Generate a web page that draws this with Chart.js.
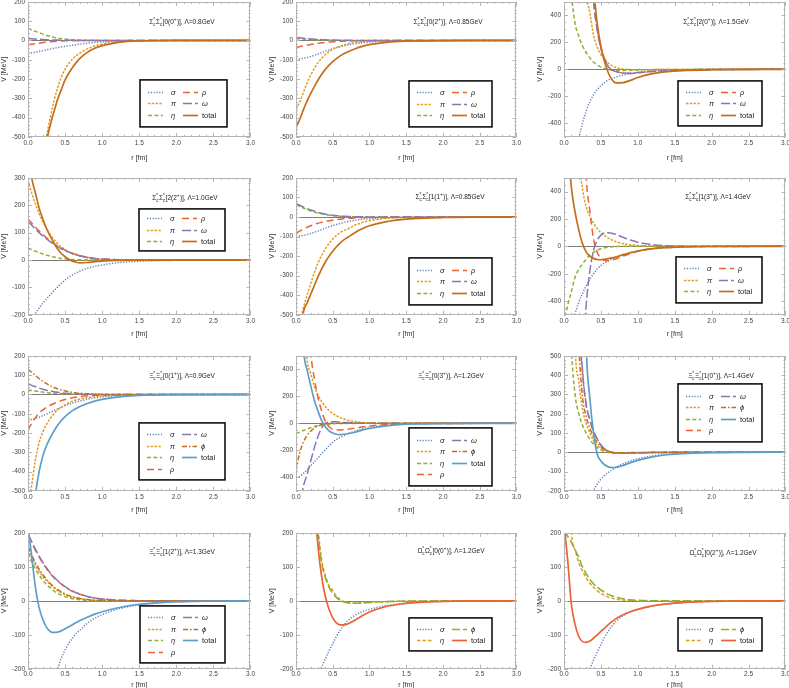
<!DOCTYPE html>
<html><head><meta charset="utf-8">
<script src="https://cdn.jsdelivr.net/npm/chart.js@4.4.0/dist/chart.umd.min.js"></script>
<style>
html,body{margin:0;padding:0;background:#fff;}
body{width:789px;height:688px;position:relative;overflow:hidden;}
canvas{position:absolute;}
</style></head><body>
<script>
// ---------------- data ----------------
const R = [0,0.05,0.1,0.15,0.2,0.25,0.3,0.35,0.4,0.45,0.5,0.55,0.6,0.65,0.7,0.8,0.9,1.0,1.2,1.4,1.6,2.0,2.5,3.0];
const X_TICKS = [0,0.5,1,1.5,2,2.5,3];
const YT_200_500 = [200,100,0,-100,-200,-300,-400,-500];
const YT_500_500 = [400,200,0,-200,-400];
const YT_300_200 = [300,200,100,0,-100,-200];
const YT_500_200 = [500,400,300,200,100,0,-100,-200];
const YT_200_200 = [200,100,0,-100,-200];

// P1  Σc*Σc*[0(0+)] Λ=0.8
const P1_SIGMA = [-66,-64,-61,-57,-53,-49,-45,-41,-37,-34,-31,-28,-25,-22,-19,-14,-10,-7.5,-4,-2,-1,-0.3,0,0];
const P1_PI    = [-1200,-1100,-950,-800,-640,-500,-400,-315,-245,-190,-150,-120,-97,-80,-65,-44,-29,-19,-8,-3,-1,0,0,0];
const P1_ETA   = [62,55,47,40,33,26,21,16,12,9,7,5.5,4,3,2,1,0.5,0.2,0,0,0,0,0,0];
const P1_RHO   = [-23,-20,-17,-14,-11,-9,-7,-5.5,-4,-3,-2,-1.5,-1,-0.7,-0.5,-0.2,0,0,0,0,0,0,0,0];
const P1_OMEGA = [10,8.5,7,6,5,4,3,2.5,2,1.5,1,0.8,0.5,0.3,0.2,0,0,0,0,0,0,0,0,0];
const P1_TOTAL = [-1500,-1380,-1200,-1000,-700,-530,-440,-370,-305,-255,-205,-170,-140,-115,-93,-62,-41,-27,-11,-4,-1.5,0,0,0];
// P2  [0(2+)] Λ=0.85
const P2_SIGMA = [-97,-96,-93,-88,-83,-77,-70,-63,-56,-49,-43,-38,-33,-28,-24,-17,-12,-9,-4.5,-2.2,-1,-0.3,0,0];
const P2_PI    = [-355,-320,-270,-220,-180,-145,-115,-92,-73,-58,-46,-37,-29,-23,-18,-11,-7,-4.5,-2,-0.8,-0.3,0,0,0];
const P2_ETA   = [10,8.5,7,5.5,4.5,3.5,3,2.3,1.8,1.3,1,0.7,0.5,0.3,0.2,0.1,0,0,0,0,0,0,0,0];
const P2_RHO   = [-36,-32,-28,-24,-21,-18,-15,-12.5,-10,-8.5,-7,-5.5,-4.5,-3.7,-3,-2,-1.3,-0.8,-0.3,0,0,0,0,0];
const P2_OMEGA = [16,14,12,10,8,6.5,5,4,3,2.5,2,1.5,1,0.8,0.6,0.3,0.1,0,0,0,0,0,0,0];
const P2_TOTAL = [-453,-410,-360,-315,-275,-240,-205,-175,-150,-128,-110,-94,-80,-69,-60,-44,-31,-22,-11,-5,-2.5,-0.5,0,0];
// P3  [2(0+)] Λ=1.5
const P3_SIGMA = [-1100,-1000,-850,-680,-520,-400,-310,-240,-190,-150,-120,-98,-80,-68,-58,-42,-31,-23,-12,-6,-3,-0.8,-0.1,0];
const P3_PI    = [5000,4000,3000,2000,1300,900,560,420,255,165,110,75,45,28,15,3,-2,-3,-2,-1,-0.5,0,0,0];
const P3_ETA   = [1400,1000,560,340,245,175,125,85,55,33,17,6,-2,-6,-8,-8,-6,-4,-2,-1,-0.5,0,0,0];
const P3_RHO   = [8000,7000,5500,4000,2800,2000,1500,900,520,300,160,80,20,-5,-15,-28,-30,-26,-16,-9,-5,-1.5,-0.3,0];
const P3_OMEGA = [7800,6800,5300,3900,2700,1950,1450,870,500,290,155,75,18,-6,-16,-27,-28,-24,-15,-8.5,-4.5,-1.4,-0.3,0];
const P3_TOTAL = [20000,17000,13000,9000,6000,4000,2500,1100,620,340,170,55,-25,-78,-100,-98,-82,-60,-32,-17,-9,-3,-0.5,0];
// P4  [2(2+)] Λ=1.0
const P4_SIGMA = [-225,-215,-195,-175,-158,-142,-127,-112,-98,-85,-73,-63,-55,-47,-40,-30,-23,-18,-10,-6,-3.5,-1,-0.2,0];
const P4_PI    = [290,245,205,170,140,115,93,75,60,48,38,30,23,18,14,8,4.5,2.5,0.8,0.3,0,0,0,0];
const P4_ETA   = [44,38,32,27,22,18,14,11,8,6,4.5,3,2,1.2,0.8,0.3,0.1,0,0,0,0,0,0,0];
const P4_RHO   = [150,135,120,106,93,81,70,60,51,43,36,30,25,20,16,10,6,4,1.5,0.5,0.2,0,0,0];
const P4_OMEGA = [140,127,113,100,88,77,67,57,49,41,35,29,24,19.5,16,10,6,4,1.5,0.5,0.2,0,0,0];
const P4_TOTAL = [400,300,245,190,150,115,87,62,40,24,12,3,-4,-8,-10,-9,-6,-4,-1.5,-0.5,-0.2,0,0,0];
// P5  [1(1+)] Λ=0.85
const P5_SIGMA = [-98,-97,-94,-89,-84,-78,-71,-64,-57,-50,-44,-38,-33,-28,-24,-17,-12,-9,-4.5,-2.2,-1,-0.3,0,0];
const P5_PI    = [-800,-560,-465,-400,-340,-285,-235,-195,-162,-135,-113,-95,-80,-70,-62,-42,-28,-19,-8,-3.5,-1.5,-0.3,0,0];
const P5_ETA   = [62,54,46,38,31,25,20,16,12,9,7,5,3.5,2.5,1.8,0.8,0.3,0.1,0,0,0,0,0,0];
const P5_RHO   = [-82,-72,-62,-53,-45,-38,-32,-27,-22,-19,-16,-13,-11,-9,-7,-4.5,-3,-2,-0.8,-0.3,-0.1,0,0,0];
const P5_OMEGA = [68,60,51,43,36,30,24,19,15,12,9,7,5,4,3,1.5,0.8,0.4,0.1,0,0,0,0,0];
const P5_TOTAL = [-900,-680,-490,-440,-395,-350,-305,-265,-230,-200,-175,-152,-133,-117,-105,-80,-60,-45,-26,-15,-8,-2.5,-0.5,0];
// P6  [1(3+)] Λ=1.4
const P6_SIGMA = [-900,-750,-600,-490,-410,-345,-290,-240,-200,-165,-140,-120,-105,-92,-80,-60,-45,-34,-19,-10,-5,-1.5,-0.2,0];
const P6_PI    = [3000,2200,1400,900,620,420,290,220,170,130,100,78,60,46,35,20,11,6,2,0.7,0.2,0,0,0];
const P6_ETA   = [-560,-430,-330,-225,-168,-130,-92,-64,-44,-29,-18,-11,-6,-3,-1,0.5,0.5,0.3,0.1,0,0,0,0,0];
const P6_RHO   = [8000,6500,5000,3500,2200,1300,520,260,55,-45,-85,-102,-105,-100,-92,-72,-52,-36,-17,-8,-3.5,-1,-0.2,0];
const P6_OMEGA = [-8000,-6000,-4000,-2500,-1500,-850,-430,-180,-30,45,82,98,100,96,88,66,46,30,13,5,2,0.4,0.1,0];
const P6_TOTAL = [1500,800,430,250,120,20,-40,-72,-88,-96,-98,-95,-90,-84,-78,-62,-47,-34,-17,-8,-4,-1,-0.2,0];
// P7  Ξc*Ξc*[0(1+)] Λ=0.9
const P7_SIGMA = [-133,-130,-125,-118,-110,-102,-93,-84,-75,-67,-59,-52,-45,-39,-34,-25,-18,-13,-6.5,-3.2,-1.5,-0.4,0,0];
const P7_PI    = [-600,-470,-340,-250,-195,-155,-125,-100,-80,-65,-53,-43,-35,-29,-24,-16,-11,-7.5,-3.5,-1.5,-0.6,-0.1,0,0];
const P7_ETA   = [24,21,18,15,12,10,8,6.5,5,4,3,2.3,1.7,1.2,0.9,0.4,0.2,0,0,0,0,0,0,0];
const P7_RHO   = [-184,-150,-120,-97,-80,-67,-56,-47,-39,-32,-26,-21,-17,-14,-11,-7,-4.5,-3,-1.2,-0.5,-0.2,0,0,0];
const P7_OMEGA = [55,47,40,33,27,22,18,14,11,8.5,6.5,5,3.8,2.8,2,1,0.5,0.2,0,0,0,0,0,0];
const P7_PHI   = [131,115,98,82,68,56,45,36,29,23,18,14,11,8,6,3,1.5,0.7,0.2,0,0,0,0,0];
const P7_TOTAL = [-900,-700,-520,-400,-320,-265,-225,-190,-160,-135,-115,-98,-84,-73,-63,-47,-35,-26,-14,-7.5,-4,-1,-0.2,0];
// P8  [0(3+)] Λ=1.2
const P8_SIGMA = [-401,-393,-372,-345,-315,-285,-255,-225,-196,-165,-140,-120,-104,-90,-78,-58,-40,-30,-15,-7.5,-3.8,-1,-0.2,0];
const P8_PI    = [3000,2000,900,480,370,275,210,162,125,95,72,57,43,32,24,13,7,3.5,1,0.3,0.1,0,0,0];
const P8_ETA   = [-76,-65,-53,-42,-32,-24,-17,-12,-8,-5,-3,-1.8,-1,-0.5,-0.2,0,0,0,0,0,0,0,0,0];
const P8_RHO   = [10000,7000,4000,1000,520,330,190,90,15,-25,-45,-50,-50,-47,-43,-35,-27,-20,-10,-5,-2.5,-0.7,-0.1,0];
const P8_OMEGA = [-900,-650,-470,-380,-280,-180,-95,-32,0,10,12,11,9,7,5.5,3,1.5,0.7,0.2,0,0,0,0,0];
const P8_PHI   = [-352,-220,-140,-90,-58,-35,-20,-10,-4,-1,0.5,1,1,0.8,0.6,0.3,0.1,0,0,0,0,0,0,0];
const P8_TOTAL = [3000,1800,600,400,280,170,90,20,-25,-55,-72,-81,-83,-81,-77,-66,-50,-38,-20,-10,-5,-1.3,-0.2,0];
// P9  [1(0+)] Λ=1.4
const P9_SIGMA = [-900,-750,-600,-490,-410,-345,-290,-240,-200,-165,-140,-120,-105,-92,-80,-60,-45,-34,-19,-10,-5,-1.5,-0.2,0];
const P9_PI    = [5000,3000,1500,560,370,225,150,100,60,35,20,12,4,-1,-3,-5,-4,-3,-1.5,-0.7,-0.3,0,0,0];
const P9_ETA   = [2000,1200,550,300,200,140,100,67,42,24,12,4,-1,-3,-4,-4,-3,-2,-1,-0.5,0,0,0,0];
const P9_RHO   = [7800,5800,3900,2100,780,420,245,165,108,68,37,17,6,-1,-4,-5,-4,-3,-1.5,-0.7,-0.3,0,0,0];
const P9_OMEGA = [8000,6000,4000,2200,800,430,250,170,110,70,38,18,6,-1,-4,-5,-4,-3,-1.5,-0.7,-0.3,0,0,0];
const P9_PHI   = [6000,4000,2200,1100,560,290,185,125,80,50,28,13,4,0,-2,-2,-1.5,-1,-0.5,-0.2,0,0,0,0];
const P9_TOTAL = [20000,15000,10000,6000,3000,1500,560,280,100,-10,-45,-65,-76,-80,-78,-68,-54,-42,-24,-13,-7,-2,-0.3,0];
// P10 [1(2+)] Λ=1.3
const P10_SIGMA = [-600,-580,-530,-465,-400,-340,-285,-238,-200,-168,-145,-125,-110,-96,-86,-66,-51,-41,-25,-15.5,-9.5,-3.5,-0.8,-0.1];
const P10_PI    = [150,126,105,87,72,59,48,38,30,24,18.5,14,11,8.5,6.5,3.5,1.8,1,0.3,0,0,0,0,0];
const P10_ETA   = [140,115,94,76,61,48,38,29,22,17,12.5,9,6.5,4.5,3,1.3,0.5,0.2,0,0,0,0,0,0];
const P10_RHO   = [190,171,149,130,111,95,80,68,58,49,41,34,28,23.5,19.5,12.5,8,5.2,2.2,0.9,0.4,0,0,0];
const P10_OMEGA = [195,175,152,132,113,97,82,70,59,50,42,35,29,24,20,13,8.5,5.5,2.3,1,0.4,0,0,0];
const P10_PHI   = [160,135,112,93,77,63,51,41,33,26,20,15.5,12,9,7,4,2,1,0.3,0,0,0,0,0];
const P10_TOTAL = [220,130,40,-20,-55,-78,-90,-93,-92,-88,-82,-76,-70,-64,-58,-48,-39,-32,-21,-13,-8,-2.5,-0.4,0];
// P11 Ωc*Ωc*[0(0+)] Λ=1.2
const P11_SIGMA = [-360,-355,-340,-315,-285,-250,-220,-195,-170,-147,-126,-105,-87,-72,-59,-43,-32,-25,-15,-9,-5,-1.5,-0.3,0];
const P11_ETA   = [5000,3000,1600,900,500,330,210,120,75,45,30,14,4,-2,-5,-7,-6,-4.5,-2.5,-1.2,-0.6,-0.1,0,0];
const P11_PHI   = [4800,2900,1500,850,470,310,195,110,68,40,22,10,2,-3,-5.5,-7,-6,-4.5,-2.5,-1.2,-0.6,-0.1,0,0];
const P11_TOTAL = [10000,6000,3000,1500,800,330,160,70,12,-25,-50,-65,-71,-71,-68,-57,-44,-33,-18,-10,-5.5,-1.5,-0.2,0];
// P12 [0(2+)] Λ=1.2
const P12_SIGMA = [-360,-355,-340,-315,-285,-252,-224,-200,-175,-151,-129,-107,-89,-74,-61,-44,-33,-25,-15,-9,-5,-1.5,-0.3,0];
const P12_ETA   = [1500,700,210,150,112,88,68,52,40,30,22,16,11,8,5.5,2.5,1,0.3,0,0,0,0,0,0];
const P12_PHI   = [205,190,172,150,128,100,80,63,50,40,32,25,19,15,11.5,6,3,1.5,0.4,0,0,0,0,0];
const P12_TOTAL = [230,120,-10,-70,-105,-120,-122,-118,-110,-100,-90,-80,-70,-61,-53,-41,-32,-25,-15,-9,-5,-1.5,-0.2,0];

// annotation texts: baryon, isospin, J, Lambda
const ANNOTATIONS = [
  ['Σ','0','0','0.8'],['Σ','0','2','0.85'],['Σ','2','0','1.5'],
  ['Σ','2','2','1.0'],['Σ','1','1','0.85'],['Σ','1','3','1.4'],
  ['Ξ','0','1','0.9'],['Ξ','0','3','1.2'],['Ξ','1','0','1.4'],
  ['Ξ','1','2','1.3'],['Ω','0','0','1.2'],['Ω','0','2','1.2']
];

// ---------------- styles / layout ----------------
const FONT = '"Liberation Sans", Arial, Helvetica, sans-serif';
Chart.defaults.font.family = FONT;
const STYLE_A = {
  sigma:{label:'σ',color:'#5E81B5',dash:[1.2,1.6],width:1.5},
  pi:{label:'π',color:'#E19C24',dash:[2.4,1.4],width:1.5},
  eta:{label:'η',color:'#8FB032',dash:[4,2.4],width:1.5},
  rho:{label:'ρ',color:'#EB6235',dash:[7,4],width:1.5},
  omega:{label:'ω',color:'#8778B3',dash:[9,3],width:1.5},
  phi:{label:'ϕ',color:'#C56E1A',dash:[5,2,1.5,2],width:1.5},
  total:{label:'total',color:'#C56E1A',dash:[],width:1.7}
};
const STYLE_B = Object.assign({}, STYLE_A, {total:{label:'total',color:'#5D9EC7',dash:[],width:1.7}});
const STYLE_C = {
  sigma:STYLE_A.sigma,
  eta:{label:'η',color:'#E19C24',dash:[3.5,2],width:1.5},
  phi:{label:'ϕ',color:'#8FB032',dash:[8,3],width:1.6},
  total:{label:'total',color:'#EB6235',dash:[],width:1.7}
};
const COLS = [{x:28,w:222},{x:296,w:220},{x:564,w:221}];
const ROWS = [{y:2,h:135,tp:3,lp:3},{y:178,h:137,tp:3,lp:1},{y:356,h:135,tp:3,lp:1},{y:533,h:136,tp:2,lp:0}];
const LEG6 = [['sigma','pi','eta'],['rho','omega','total']];
const LEG7 = [['sigma','pi','eta','rho'],['omega','phi','total']];
const LEG4 = [['sigma','eta'],['phi','total']];

const PANELS = [
 {c:0,r:0,ymin:-500,ymax:200,yt:YT_200_500,ym:20,st:STYLE_A,leg:LEG6,box:[112,78,87,47],an:[154,20],
  s:{sigma:P1_SIGMA,pi:P1_PI,eta:P1_ETA,rho:P1_RHO,omega:P1_OMEGA,total:P1_TOTAL}},
 {c:1,r:0,ymin:-500,ymax:200,yt:YT_200_500,ym:20,st:STYLE_A,leg:LEG6,box:[113,79,83,46],an:[152,20],
  s:{sigma:P2_SIGMA,pi:P2_PI,eta:P2_ETA,rho:P2_RHO,omega:P2_OMEGA,total:P2_TOTAL}},
 {c:2,r:0,ymin:-500,ymax:500,yt:YT_500_500,ym:50,st:STYLE_A,leg:LEG6,box:[114,79,84,45],an:[152,20],
  s:{sigma:P3_SIGMA,pi:P3_PI,eta:P3_ETA,rho:P3_RHO,omega:P3_OMEGA,total:P3_TOTAL}},
 {c:0,r:1,ymin:-200,ymax:300,yt:YT_300_200,ym:20,st:STYLE_A,leg:LEG6,box:[111,31,86,42],an:[157,20],
  s:{sigma:P4_SIGMA,pi:P4_PI,eta:P4_ETA,rho:P4_RHO,omega:P4_OMEGA,total:P4_TOTAL}},
 {c:1,r:1,ymin:-500,ymax:200,yt:YT_200_500,ym:20,st:STYLE_A,leg:LEG6,box:[113,80,83,47],an:[154,19],
  s:{sigma:P5_SIGMA,pi:P5_PI,eta:P5_ETA,rho:P5_RHO,omega:P5_OMEGA,total:P5_TOTAL}},
 {c:2,r:1,ymin:-500,ymax:500,yt:YT_500_500,ym:50,st:STYLE_A,leg:LEG6,box:[112,79,86,46],an:[154,19],
  s:{sigma:P6_SIGMA,pi:P6_PI,eta:P6_ETA,rho:P6_RHO,omega:P6_OMEGA,total:P6_TOTAL}},
 {c:0,r:2,ymin:-500,ymax:200,yt:YT_200_500,ym:20,st:STYLE_B,leg:LEG7,box:[111,67,86,57],an:[154,20],
  s:{sigma:P7_SIGMA,pi:P7_PI,eta:P7_ETA,rho:P7_RHO,omega:P7_OMEGA,phi:P7_PHI,total:P7_TOTAL}},
 {c:1,r:2,ymin:-500,ymax:500,yt:YT_500_500,ym:50,st:STYLE_B,leg:LEG7,box:[113,72,83,58],an:[155,20],
  s:{sigma:P8_SIGMA,pi:P8_PI,eta:P8_ETA,rho:P8_RHO,omega:P8_OMEGA,phi:P8_PHI,total:P8_TOTAL}},
 {c:2,r:2,ymin:-200,ymax:500,yt:YT_500_200,ym:20,st:STYLE_B,leg:LEG7,box:[114,28,84,58],an:[157,20],
  s:{sigma:P9_SIGMA,pi:P9_PI,eta:P9_ETA,rho:P9_RHO,omega:P9_OMEGA,phi:P9_PHI,total:P9_TOTAL}},
 {c:0,r:3,ymin:-200,ymax:200,yt:YT_200_200,ym:20,st:STYLE_B,leg:LEG7,box:[112,73,85,57],an:[154,19],
  s:{sigma:P10_SIGMA,pi:P10_PI,eta:P10_ETA,rho:P10_RHO,omega:P10_OMEGA,phi:P10_PHI,total:P10_TOTAL}},
 {c:1,r:3,ymin:-200,ymax:200,yt:YT_200_200,ym:20,st:STYLE_C,leg:LEG4,box:[113,85,83,33],an:[155,18],
  s:{sigma:P11_SIGMA,eta:P11_ETA,phi:P11_PHI,total:P11_TOTAL}},
 {c:2,r:3,ymin:-200,ymax:200,yt:YT_200_200,ym:20,st:STYLE_C,leg:LEG4,box:[114,85,84,33],an:[159,20],
  s:{sigma:P12_SIGMA,eta:P12_ETA,phi:P12_PHI,total:P12_TOTAL}}
];

// ---------------- drawing helpers ----------------
function drawAnno(ctx, cx, cy, a) {
  const fb = '6.5px ' + FONT, fs = '4.5px ' + FONT;
  const parts = [
    {t:a[0]},{sup:'*',sub:'c'},{t:a[0]},{sup:'*',sub:'c'},
    {t:'[' + a[1] + '(' + a[2]},{sup:'+'},{t:')], Λ=' + a[3] + 'GeV'}
  ];
  let w = 0;
  parts.forEach(p => {
    if (p.t !== undefined) { ctx.font = fb; p.w = ctx.measureText(p.t).width; }
    else { ctx.font = fs; p.w = Math.max(ctx.measureText(p.sup||'').width, ctx.measureText(p.sub||'').width) + 0.4; }
    w += p.w;
  });
  let x = cx - w / 2; const base = cy + 2.2;
  ctx.fillStyle = '#222'; ctx.textAlign = 'left'; ctx.textBaseline = 'alphabetic';
  parts.forEach(p => {
    if (p.t !== undefined) { ctx.font = fb; ctx.fillText(p.t, x, base); }
    else {
      ctx.font = fs;
      if (p.sup) ctx.fillText(p.sup, x, base - 2.8);
      if (p.sub) ctx.fillText(p.sub, x, base + 1.4);
    }
    x += p.w;
  });
}

function drawLegend(ctx, a, p) {
  const [bx, by, bw, bh] = p.box;
  const L = a.left + bx, T = a.top + by;
  ctx.save();
  ctx.fillStyle = '#fff'; ctx.fillRect(L, T, bw, bh);
  ctx.strokeStyle = '#111'; ctx.lineWidth = 1.6; ctx.strokeRect(L, T, bw, bh);
  const n = Math.max(...p.leg.map(c => c.length));
  const gap = 11.5; const y0 = T + bh / 2 - gap * (n - 1) / 2;
  p.leg.forEach((col, ci) => {
    const sx = L + (ci ? 43 : 8), lx = L + (ci ? 62 : 31);
    col.forEach((key, ri) => {
      const st = p.st[key]; const yy = Math.round(y0 + ri * gap) + 0.5;
      ctx.save();
      ctx.strokeStyle = st.color; ctx.lineWidth = st.width; ctx.setLineDash(st.dash);
      ctx.beginPath(); ctx.moveTo(sx, yy); ctx.lineTo(sx + 15, yy); ctx.stroke();
      ctx.restore();
      ctx.fillStyle = '#222'; ctx.textAlign = 'left'; ctx.textBaseline = 'middle';
      ctx.font = (key === 'total' ? '' : 'italic ') + '7.5px ' + FONT;
      ctx.fillText(st.label, lx, yy);
    });
  });
  ctx.restore();
}

function makeDecor(p) {
  return {
    id: 'decor',
    beforeDatasetsDraw(chart) {
      const {ctx, chartArea: a, scales: {y}} = chart;
      const y0 = Math.round(y.getPixelForValue(0)) + 0.5;
      ctx.save(); ctx.strokeStyle = '#7d7d7d'; ctx.lineWidth = 1.2;
      ctx.beginPath(); ctx.moveTo(a.left, y0); ctx.lineTo(a.right, y0); ctx.stroke(); ctx.restore();
    },
    afterDraw(chart) {
      const {ctx, chartArea: a, scales: {x, y}} = chart;
      ctx.save();
      ctx.strokeStyle = '#b4b4b4'; ctx.lineWidth = 1;
      ctx.strokeRect(Math.round(a.left) + 0.5, Math.round(a.top) + 0.5, Math.round(a.right - a.left) - 1, Math.round(a.bottom - a.top) - 1);
      ctx.beginPath();
      for (let k = 0; k <= 30; k++) {
        const px = Math.round(x.getPixelForValue(k / 10)) + 0.5; const Lk = (k % 5 === 0) ? 4 : 2;
        ctx.moveTo(px, a.bottom); ctx.lineTo(px, a.bottom - Lk);
        ctx.moveTo(px, a.top); ctx.lineTo(px, a.top + Lk);
      }
      for (let v = p.ymin; v <= p.ymax + 1e-6; v += p.ym) {
        const py = Math.round(y.getPixelForValue(v)) + 0.5; const Lk = p.yt.includes(v) ? 4 : 2;
        ctx.moveTo(a.left, py); ctx.lineTo(a.left + Lk, py);
        ctx.moveTo(a.right, py); ctx.lineTo(a.right - Lk, py);
      }
      ctx.stroke();
      ctx.restore();
      drawLegend(ctx, a, p);
      drawAnno(ctx, a.left + p.an[0], a.top + p.an[1], p.lab);
    }
  };
}

function makeConfig(p) {
  const keys = Object.keys(p.s);
  const row = ROWS[p.r];
  const datasets = keys.slice().reverse().map(k => ({
    label: p.st[k].label,
    data: R.map((r, i) => ({x: r, y: p.s[k][i]})),
    borderColor: p.st[k].color, borderWidth: p.st[k].width, borderDash: p.st[k].dash,
    pointRadius: 0, fill: false, cubicInterpolationMode: 'monotone'
  }));
  return {
    type: 'line',
    data: {datasets},
    options: {
      responsive: false, animation: false, events: [], devicePixelRatio: 1,
      layout: {padding: 0},
      elements: {line: {capBezierPoints: false}},
      plugins: {legend: {display: false}, tooltip: {enabled: false}},
      scales: {
        x: {type: 'linear', min: 0, max: 3,
            afterBuildTicks: s => { s.ticks = X_TICKS.map(v => ({value: v})); },
            grid: {display: false, drawTicks: false, tickLength: 0}, border: {display: false},
            ticks: {font: {size: 6.5}, color: '#444', padding: row.tp, maxRotation: 0, autoSkip: false,
                    callback: v => Number(v).toFixed(1)},
            title: {display: true, text: 'r [fm]', font: {size: 7}, color: '#333', padding: {top: row.lp, bottom: 0}}},
        y: {type: 'linear', min: p.ymin, max: p.ymax,
            afterBuildTicks: s => { s.ticks = p.yt.map(v => ({value: v})); },
            afterFit: s => { s.width = 28; },
            grid: {display: false, drawTicks: false, tickLength: 0}, border: {display: false},
            ticks: {font: {size: 6.5}, color: '#444', padding: 3, autoSkip: false, callback: v => String(v)},
            title: {display: true, text: 'V [MeV]', font: {size: 7}, color: '#333', padding: {top: 0, bottom: 0}}}
      }
    },
    plugins: [makeDecor(p)]
  };
}

function build(p) {
  const tx = COLS[p.c].x, tw = COLS[p.c].w, ty = ROWS[p.r].y, th = ROWS[p.r].h;
  const cv = document.createElement('canvas');
  document.body.appendChild(cv);
  let W = tw + 40, H = th + 30, chart;
  const make = () => {
    cv.width = W; cv.height = H; cv.style.width = W + 'px'; cv.style.height = H + 'px';
    return new Chart(cv, makeConfig(p));
  };
  chart = make();
  for (let k = 0; k < 3; k++) {
    const a = chart.chartArea;
    const dw = Math.round(tw - (a.right - a.left)), dh = Math.round(th - (a.bottom - a.top));
    if (!dw && !dh) break;
    chart.destroy(); W += dw; H += dh; chart = make();
  }
  cv.style.left = (tx - chart.chartArea.left) + 'px';
  cv.style.top = (ty - chart.chartArea.top) + 'px';
}

PANELS.forEach((p, i) => { p.lab = ANNOTATIONS[i]; build(p); });
</script>
</body></html>
